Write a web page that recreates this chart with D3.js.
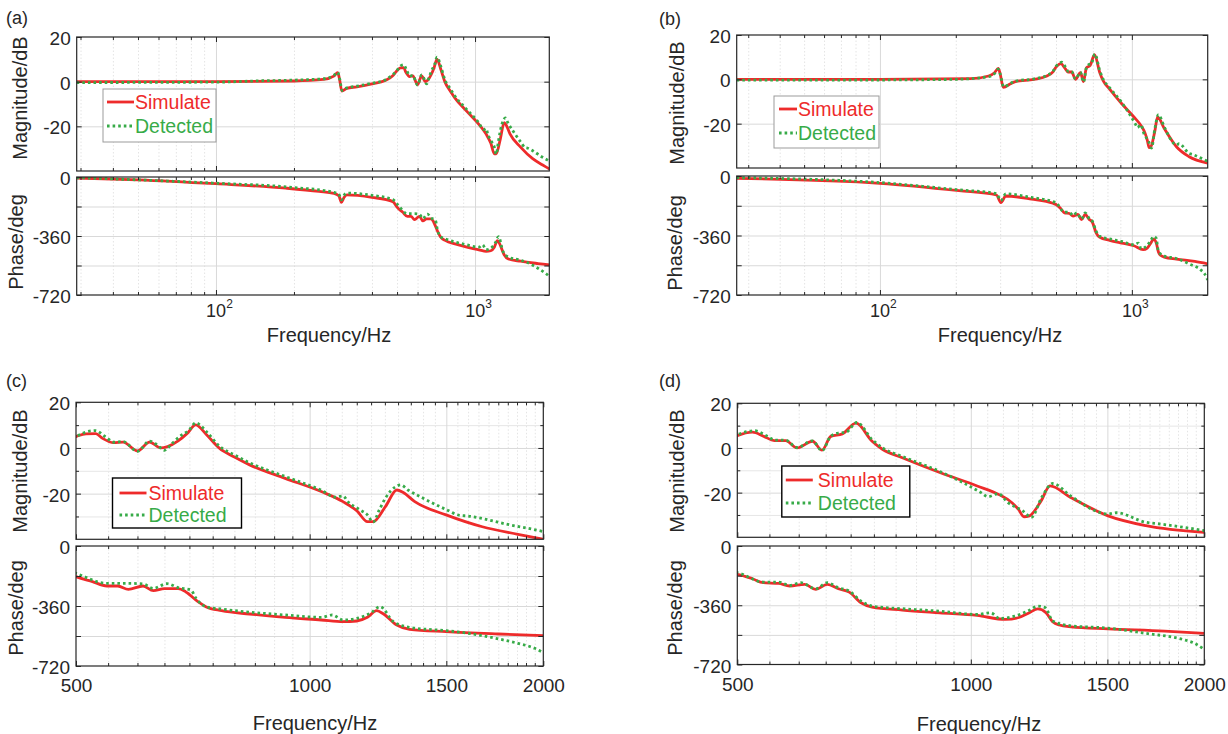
<!DOCTYPE html>
<html>
<head>
<meta charset="utf-8">
<script src="https://cdn.jsdelivr.net/npm/d3@7"></script>
<style>
  body { margin: 0; background: #fff; }
  svg { display: block; font-family: "Liberation Sans", Arial, Helvetica, sans-serif; }
</style>
</head>
<body>
<svg id="chart" width="1228" height="734"></svg>
<script>
// ---- data: [frequency Hz, value] ----
const seriesNames = ['Simulate', 'Detected']
const magTicks = [20, 0, -20]
const magMinorTicks = [10, -10, -30]
const phaseTicks = [0, -180, -360, -540, -720]
const phaseLabelled = [0, -360, -720]
const logMajor = [100, 1000]
const logMinor = [30, 40, 50, 60, 70, 80, 90, 200, 300, 400, 500, 600, 700, 800, 900]
const linMajor = [500, 1000, 1500, 2000]
const linMinor = d3.range(550, 2000, 50).filter(f => f !== 1000 && f !== 1500)

// case 1: panels (a) and (c)
const magSim1 = [[29,0],[100,0],[200,0.3],[260,1],[285,2.5],[295,4],[300,1],[306,-4.2],[320,-3],[350,-2.3],[400,-1],[450,0.5],[480,2.5],[500,5],[515,6.2],[530,6.3],[541,4.2],[559,2.3],[575,2.6],[600,-1.3],[622,2.6],[643,0],[656,0.6],[677,3.1],[696,6.5],[713,10.1],[737,5.7],[765,-0.1],[800,-4],[837,-7.4],[930,-13.3],[1035,-19.1],[1104,-23.5],[1151,-27.6],[1187,-32.3],[1207,-32.3],[1252,-25.7],[1295,-18.4],[1320,-19.5],[1366,-23.5],[1499,-29.3],[1669,-34.5],[1855,-37.8],[2000,-40]]
const magDet1 = [[29,-0.4],[100,-0.2],[150,0.4],[200,0.7],[260,1.3],[285,2.8],[295,4.2],[300,1.5],[307,-4],[320,-2.8],[350,-2],[400,-0.7],[450,0.8],[480,3],[500,5],[515,7],[530,7.6],[545,5],[560,2.5],[575,2.8],[600,-1.5],[622,3],[635,1.5],[650,-1],[665,2],[680,5],[700,8],[713,11],[737,7],[765,0.8],[800,-3],[837,-6.5],[930,-12.5],[1035,-18.5],[1080,-21.5],[1104,-21],[1120,-23.5],[1160,-27],[1187,-29.3],[1207,-32.5],[1230,-27],[1252,-22],[1290,-17],[1310,-16.2],[1340,-18.5],[1400,-22],[1500,-27],[1560,-29.5],[1600,-29.8],[1700,-31.5],[1800,-33.5],[1900,-35],[2000,-36.6]]
const phSim1 = [[29,-6],[50,-17],[100,-41],[186,-68],[250,-88],[285,-100],[298,-115],[305,-154],[312,-125],[320,-109],[400,-124],[482,-150],[500,-184],[525,-214],[548,-240],[566,-240],[584,-260],[610,-240],[629,-268],[650,-256],[677,-256],[692,-274],[718,-334],[735,-364],[770,-388],[837,-408],[930,-428],[1035,-444],[1104,-454],[1150,-450],[1187,-428],[1220,-388],[1245,-408],[1295,-474],[1345,-500],[1499,-514],[1750,-528],[2000,-538]]
const phDet1 = [[29,-4],[100,-38],[200,-64],[285,-94],[298,-105],[305,-140],[312,-112],[320,-98],[400,-112],[482,-138],[500,-164],[548,-224],[584,-224],[610,-228],[629,-254],[655,-226],[677,-250],[703,-264],[714,-314],[735,-364],[770,-378],[930,-414],[1035,-428],[1069,-414],[1104,-444],[1151,-434],[1200,-400],[1232,-364],[1282,-454],[1345,-488],[1499,-508],[1581,-520],[1761,-560],[1855,-584],[1950,-614],[2000,-640]]

// case 2: panels (b) and (d)
const magSim2 = [[27,0],[100,0],[228,0.3],[270,1.5],[285,3],[295,4.9],[300,2.5],[309,-3.6],[330,-2],[345,-1],[409,0],[460,1.5],[486,3.4],[500,5.5],[523,7.1],[541,5.2],[558,3.3],[577,3.3],[597,0],[625,3],[643,-1],[660,5.2],[683,6.3],[711,11.1],[746,3],[770,-0.7],[816,-4.4],[912,-11],[1019,-17],[1089,-21],[1130,-24.5],[1152,-27.5],[1171,-30.8],[1190,-30.4],[1232,-23.7],[1265,-17],[1345,-22.2],[1503,-30.4],[1682,-34.8],[2000,-37.8]]
const magDet2 = [[27,-0.4],[100,-0.3],[200,0],[270,1.2],[285,2.6],[295,4.6],[300,2.5],[310,-3.4],[330,-1.8],[345,-0.8],[409,0.2],[460,1.8],[486,3.6],[500,5.9],[527,7.7],[545,5.5],[560,3.5],[577,3.5],[597,0.2],[625,3.2],[643,-1.2],[660,5.3],[675,6.7],[690,7],[713,11.4],[746,3.8],[770,0],[816,-3.8],[912,-10.5],[1031,-20],[1052,-21.8],[1085,-20.5],[1117,-24.5],[1166,-28.1],[1197,-31],[1235,-22],[1275,-15.9],[1345,-21.5],[1470,-29],[1503,-29.6],[1540,-29],[1682,-33.3],[1750,-34],[2000,-37]]
const phSim2 = [[27,-14],[100,-44],[206,-89],[290,-115],[302,-161],[316,-121],[400,-140],[486,-165],[500,-172],[523,-199],[540,-223],[565,-227],[584,-243],[611,-233],[631,-264],[653,-233],[675,-260],[697,-280],[722,-345],[746,-371],[816,-389],[912,-406],[1019,-422],[1108,-446],[1151,-436],[1190,-405],[1220,-382],[1250,-405],[1275,-460],[1300,-480],[1346,-491],[1503,-503],[1778,-517],[2000,-531]]
const phDet2 = [[27,-10],[100,-40],[206,-84],[290,-106],[302,-148],[316,-108],[400,-130],[486,-155],[500,-162],[540,-219],[565,-219],[584,-239],[604,-223],[631,-260],[653,-223],[675,-254],[697,-274],[722,-335],[746,-365],[816,-381],[912,-396],[1019,-416],[1061,-406],[1089,-440],[1139,-426],[1190,-390],[1220,-365],[1248,-375],[1275,-456],[1346,-485],[1503,-499],[1682,-531],[1877,-568],[1940,-590],[2000,-629]]

const COLOR = {
  SIM: '#ee2b2b',
  DET: '#37ab48',
  AXIS: '#262626',
  GRID: '#d9d9d9',
  MINOR: '#e4e4e4',
}

// layout of the four panels (pixels)
const panels = [
  { id: 'a', tag: '(a)', tagX: 6, tagY: 24, x0: 76.7, x1: 549.3, dom: [29, 1935], log: true,
    mag: [171, 37], ph: [295, 177], mag1: magSim1, mag2: magDet1, ph1: phSim1, ph2: phDet1,
    magLab: [27, 98], phLab: [23, 242], xLab: [329, 342], tickPad: 9, magMinor: false,
    legend: { x: 103, y: 89, w: 113, h: 53, r1: 13, r2: 37, l0: 4, l1: 31, t: 32, border: '#9b9b9b', bw: 1 } },
  { id: 'b', tag: '(b)', tagX: 659, tagY: 25, x0: 736.7, x1: 1207.7, dom: [27, 2000], log: true,
    mag: [168, 35], ph: [295, 176], mag1: magSim2, mag2: magDet2, ph1: phSim2, ph2: phDet2,
    magLab: [684, 103], phLab: [682, 243], xLab: [1000, 342], tickPad: 9, magMinor: false,
    legend: { x: 774, y: 96, w: 105, h: 52, r1: 13, r2: 37, l0: 5, l1: 23, t: 24, border: '#9b9b9b', bw: 1 } },
  { id: 'c', tag: '(c)', tagX: 6, tagY: 387, x0: 76, x1: 543.3, dom: [500, 2000], log: false,
    mag: [539.3, 402.3], ph: [666, 546], mag1: magSim1, mag2: magDet1, ph1: phSim1, ph2: phDet1,
    magLab: [27, 471], phLab: [23, 608], xLab: [315, 730], tickPad: 13, magMinor: true,
    legend: { x: 112.5, y: 478, w: 129, h: 50, r1: 15, r2: 37, l0: 7, l1: 34, t: 36, border: '#000', bw: 1.4 } },
  { id: 'd', tag: '(d)', tagX: 659, tagY: 387, x0: 737.3, x1: 1204.3, dom: [500, 2000], log: false,
    mag: [537.3, 403.3], ph: [664.5, 546], mag1: magSim2, mag2: magDet2, ph1: phSim2, ph2: phDet2,
    magLab: [683.5, 471], phLab: [682, 608], xLab: [979, 731], tickPad: 13, magMinor: true,
    legend: { x: 781.8, y: 466, w: 128, h: 51, r1: 14, r2: 37, l0: 4, l1: 31, t: 36, border: '#000', bw: 1.4 } },
]

const svg = d3.select('#chart')

function styleAxis(g, size) {
  g.attr('font-family', null).attr('font-size', size)
  g.selectAll('.tick line').attr('stroke', COLOR.AXIS)
  g.selectAll('.tick text').attr('fill', COLOR.AXIS)
  g.select('.domain').remove()
}

function drawSub(p, x, y, opt) {
  const top = y.range()[1]
  const bottom = y.range()[0]
  const w = p.x1 - p.x0
  const h = bottom - top
  const xMajor = p.log ? logMajor : linMajor
  const xMinor = p.log ? logMinor : linMinor
  const g = svg.append('g').attr('class', `sub-${p.id}-${opt.key}`)

  // grid
  const minorGrid = g.append('g').attr('transform', `translate(0,${bottom})`)
    .call(d3.axisBottom(x).tickValues(xMinor).tickSize(-h).tickFormat(''))
  minorGrid.select('.domain').remove()
  minorGrid.selectAll('line').attr('stroke', COLOR.MINOR).attr('stroke-dasharray', '1.5,2')

  if (opt.yMinor) {
    const yMinorGrid = g.append('g').attr('transform', `translate(${p.x0},0)`)
      .call(d3.axisLeft(y).tickValues(opt.yMinor).tickSize(-w).tickFormat(''))
    yMinorGrid.select('.domain').remove()
    yMinorGrid.selectAll('line').attr('stroke', '#e6e6e6')
  }

  const majorGrid = g.append('g').attr('transform', `translate(0,${bottom})`)
    .call(d3.axisBottom(x).tickValues(xMajor.filter(v => v > p.dom[0] && v < p.dom[1])).tickSize(-h).tickFormat(''))
  majorGrid.select('.domain').remove()
  majorGrid.selectAll('line').attr('stroke', COLOR.GRID)

  const yGrid = g.append('g').attr('transform', `translate(${p.x0},0)`)
    .call(d3.axisLeft(y).tickValues(opt.yTicks.filter(v => v < y.domain()[1] && v > y.domain()[0])).tickSize(-w).tickFormat(''))
  yGrid.select('.domain').remove()
  yGrid.selectAll('line').attr('stroke', COLOR.GRID)

  // curves
  const clipId = `clip-${p.id}-${opt.key}`
  g.append('clipPath').attr('id', clipId)
    .append('rect').attr('x', p.x0).attr('y', top).attr('width', w).attr('height', h)

  const line = d3.line()
    .x(d => x(d[0]))
    .y(d => y(d[1]))
    .curve(d3.curveMonotoneX)

  const curves = g.append('g').attr('clip-path', `url(#${clipId})`)
  curves.append('path')
    .datum(opt.sim)
    .attr('d', line)
    .attr('fill', 'none')
    .attr('stroke', COLOR.SIM)
    .attr('stroke-width', 2.8)
    .attr('stroke-linejoin', 'round')
  curves.append('path')
    .datum(opt.det)
    .attr('d', line)
    .attr('fill', 'none')
    .attr('stroke', COLOR.DET)
    .attr('stroke-width', 2.8)
    .attr('stroke-dasharray', '2.6,3')

  // box
  g.append('rect')
    .attr('x', p.x0).attr('y', top).attr('width', w).attr('height', h)
    .attr('fill', 'none').attr('stroke', COLOR.AXIS).attr('stroke-width', 1.2)

  // ticks
  const left = g.append('g').attr('transform', `translate(${p.x0},0)`)
    .call(d3.axisLeft(y).tickValues(opt.yTicks).tickSize(-5).tickPadding(6).tickFormat(opt.yFormat))
  styleAxis(left, 19)
  left.selectAll('.tick text').attr('dy', '0.4em')

  const right = g.append('g').attr('transform', `translate(${p.x1},0)`)
    .call(d3.axisRight(y).tickValues(opt.yTicks).tickSize(-5).tickFormat(''))
  styleAxis(right, 19)

  if (opt.yMinor) {
    [[d3.axisLeft, p.x0], [d3.axisRight, p.x1]].forEach(([ax, pos]) => {
      const m = g.append('g').attr('transform', `translate(${pos},0)`)
        .call(ax(y).tickValues(opt.yMinor).tickSize(-3).tickFormat(''))
      styleAxis(m, 19)
    })
  }

  const bottomAxis = d3.axisBottom(x).tickValues(xMajor).tickSize(-5).tickPadding(p.tickPad)
  if (opt.xLabels) {
    bottomAxis.tickFormat(p.log ? () => '10' : d => String(d))
  } else {
    bottomAxis.tickFormat('')
  }
  const bAx = g.append('g').attr('transform', `translate(0,${bottom})`).call(bottomAxis)
  styleAxis(bAx, p.log ? 18 : 19)
  if (opt.xLabels && p.log) {
    bAx.selectAll('.tick text')
      .attr('dx', 3)
      .append('tspan')
      .attr('dy', -9)
      .attr('font-size', 12)
      .text(d => Math.round(Math.log10(d)))
  }

  const tAx = g.append('g').attr('transform', `translate(0,${top})`)
    .call(d3.axisTop(x).tickValues(xMajor).tickSize(-5).tickFormat(''))
  styleAxis(tAx, 19)

  ;[[d3.axisBottom, bottom], [d3.axisTop, top]].forEach(([ax, pos]) => {
    const m = g.append('g').attr('transform', `translate(0,${pos})`)
      .call(ax(x).tickValues(xMinor).tickSize(-3).tickFormat(''))
    styleAxis(m, 19)
  })

  // y label
  g.append('text')
    .attr('transform', `translate(${opt.label[0]},${opt.label[1]}) rotate(-90)`)
    .attr('text-anchor', 'middle')
    .attr('font-size', 20)
    .attr('fill', COLOR.AXIS)
    .text(opt.title)
}

function drawLegend(p) {
  const L = p.legend
  const g = svg.append('g').attr('class', `legend-${p.id}`)
  g.append('rect')
    .attr('x', L.x).attr('y', L.y).attr('width', L.w).attr('height', L.h)
    .attr('fill', '#fff').attr('stroke', L.border).attr('stroke-width', L.bw)

  const rows = [
    { name: seriesNames[0], color: COLOR.SIM, dash: null, dy: L.r1 },
    { name: seriesNames[1], color: COLOR.DET, dash: '2.6,3', dy: L.r2 },
  ]
  rows.forEach(r => {
    g.append('line')
      .attr('x1', L.x + L.l0).attr('x2', L.x + L.l1)
      .attr('y1', L.y + r.dy).attr('y2', L.y + r.dy)
      .attr('stroke', r.color).attr('stroke-width', 2.8)
      .attr('stroke-dasharray', r.dash)
    g.append('text')
      .attr('x', L.x + L.t).attr('y', L.y + r.dy + 7)
      .attr('font-size', 19.5)
      .attr('fill', r.color)
      .text(r.name)
  })
}

panels.forEach(p => {
  const x = d3.scaleLog().domain(p.dom).range([p.x0, p.x1])
  const yMag = d3.scaleLinear().domain([-40, 20]).range(p.mag)
  const yPh = d3.scaleLinear().domain([-720, 0]).range(p.ph)

  drawSub(p, x, yMag, {
    key: 'mag', sim: p.mag1, det: p.mag2, yTicks: magTicks,
    yMinor: p.magMinor ? magMinorTicks : null,
    yFormat: d => String(d), xLabels: false, title: 'Magnitude/dB', label: p.magLab,
  })
  drawSub(p, x, yPh, {
    key: 'ph', sim: p.ph1, det: p.ph2, yTicks: phaseTicks, yMinor: null,
    yFormat: d => (phaseLabelled.includes(d) ? String(d) : ''),
    xLabels: true, title: 'Phase/deg', label: p.phLab,
  })
  drawLegend(p)

  svg.append('text')
    .attr('x', p.xLab[0]).attr('y', p.xLab[1])
    .attr('text-anchor', 'middle')
    .attr('font-size', 20)
    .attr('fill', COLOR.AXIS)
    .text('Frequency/Hz')

  svg.append('text')
    .attr('x', p.tagX).attr('y', p.tagY)
    .attr('font-size', 18)
    .attr('fill', COLOR.AXIS)
    .text(p.tag)
})
</script>
</body>
</html>
